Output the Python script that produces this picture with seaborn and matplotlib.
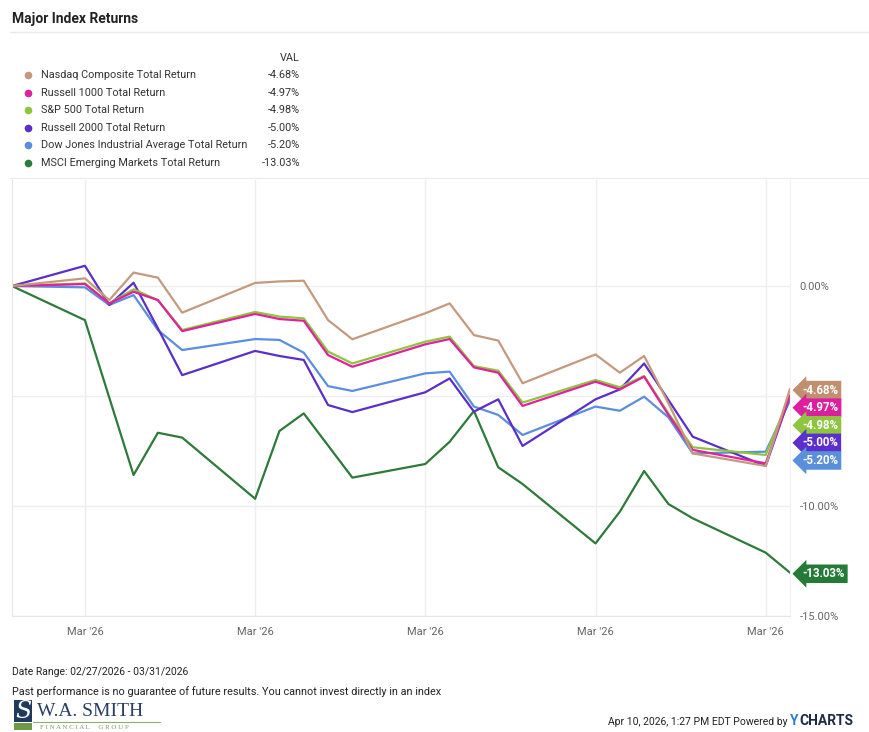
import numpy as np
import pandas as pd
import matplotlib.pyplot as plt
import matplotlib.dates as mdates
from matplotlib.lines import Line2D
from matplotlib.patches import Rectangle
import seaborn as sns

dates = ["2026-02-27", "2026-03-02", "2026-03-03", "2026-03-04", "2026-03-05", "2026-03-06",
         "2026-03-09", "2026-03-10", "2026-03-11", "2026-03-12", "2026-03-13",
         "2026-03-16", "2026-03-17", "2026-03-18", "2026-03-19", "2026-03-20",
         "2026-03-23", "2026-03-24", "2026-03-25", "2026-03-26", "2026-03-27",
         "2026-03-30", "2026-03-31"]

names = ["Nasdaq Composite Total Return", "Russell 1000 Total Return", "S&P 500 Total Return",
         "Russell 2000 Total Return", "Dow Jones Industrial Average Total Return",
         "MSCI Emerging Markets Total Return"]

nasdaq = [0, 0.35, -0.64, 0.61, 0.38, -1.21, 0.14, 0.21, 0.24, -1.55, -2.42, -1.24, -0.79,
          -2.23, -2.48, -4.42, -3.11, -3.94, -3.18, -5.33, -7.61, -8.18, -4.68]
russell1000 = [0, 0.09, -0.79, -0.26, -0.64, -2.05, -1.27, -1.50, -1.58, -3.14, -3.67, -2.65, -2.41,
               -3.70, -3.94, -5.45, -4.35, -4.70, -4.12, -5.86, -7.45, -8.06, -4.97]
sp500 = [0, 0.12, -0.79, -0.15, -0.64, -2.00, -1.18, -1.39, -1.47, -2.98, -3.52, -2.53, -2.30,
         -3.64, -3.85, -5.30, -4.27, -4.60, -4.09, -5.79, -7.33, -7.68, -4.98]
russell2000 = [0, 0.92, -0.86, 0.15, -1.92, -4.05, -2.95, -3.18, -3.36, -5.41, -5.73, -4.83, -4.20,
               -5.71, -5.15, -7.27, -5.15, -4.70, -3.52, -5.18, -6.85, -8.18, -5.00]
dow = [0, -0.06, -0.86, -0.41, -2.00, -2.91, -2.41, -2.45, -3.03, -4.55, -4.77, -3.97, -3.89,
       -5.48, -5.86, -6.77, -5.48, -5.67, -5.03, -5.97, -7.61, -7.53, -5.20]
msci = [0, -1.55, -5.07, -8.59, -6.67, -6.89, -9.67, -6.59, -5.79, -7.25, -8.71, -8.09, -7.08,
        -5.68, -8.24, -9.00, -11.70, -10.26, -8.41, -9.91, -10.56, -12.12, -13.03]

final_vals = [-4.68, -4.97, -4.98, -5.00, -5.20, -13.03]
colors = ["#c49a7e", "#e0219b", "#8cc63e", "#5a2fc8", "#5b8ede", "#2d7a3a"]
tag_colors = ["#c08f70", "#dc1fa0", "#8dc540", "#5b2fcb", "#5a8fdc", "#247a36"]

series = [nasdaq, russell1000, sp500, russell2000, dow, msci]
df = pd.DataFrame({
    "date": np.tile(pd.to_datetime(dates), len(names)),
    "index": np.repeat(names, len(dates)),
    "ret": np.concatenate(series),
})

sns.set_style("white")
plt.rcParams["font.family"] = ["Roboto", "DejaVu Sans"]

W, H = 869, 732
fig = plt.figure(figsize=(W / 100, H / 100), dpi=100)
ax = fig.add_axes([12 / W, 1 - 616 / H, 778 / W, 436 / H])

sns.lineplot(data=df, x="date", y="ret", hue="index", palette=dict(zip(names, colors)),
             hue_order=names[::-1], linewidth=1.6, legend=False, ax=ax)

ax.set_xlim(pd.Timestamp("2026-02-27"), pd.Timestamp("2026-03-31"))
ax.set_ylim(-15, 4.82)
ax.xaxis.set_major_locator(mdates.WeekdayLocator(byweekday=mdates.MO))
ax.xaxis.set_major_formatter(mdates.DateFormatter("%b '%y"))
ax.yaxis.tick_right()
ax.set_yticks([0, -5, -10, -15])
ax.set_yticklabels(["0.00%", "", "-10.00%", "-15.00%"])
ax.tick_params(length=0, labelsize=8, colors="#666666")
ax.tick_params(axis="x", pad=8)
ax.tick_params(axis="y", pad=7)
ax.grid(True, color="#eeeeee", linewidth=1)
ax.set_xlabel("")
ax.set_ylabel("")
for side in ["left", "bottom"]:
    ax.spines[side].set_color("#e6e6e6")
ax.spines["right"].set_color("#f2f2f2")
ax.spines["top"].set_visible(False)

# end-of-line value tags, pushed apart so they don't overlap
order = np.argsort(final_vals)[::-1]
tag_y = {}
prev = None
for i in order:
    y = final_vals[i] - 0.05
    if prev is not None and prev - y < 0.8:
        y = prev - 0.8
    tag_y[i] = y
    prev = y
for i in range(len(names)):
    ax.annotate(f"{final_vals[i]:.2f}%", xy=(1, tag_y[i]), xycoords=("axes fraction", "data"),
                xytext=(9, 0), textcoords="offset points", ha="left", va="center",
                fontsize=8.3, fontweight="bold", color="white", annotation_clip=False,
                bbox=dict(boxstyle="larrow,pad=0.24", fc=tag_colors[i], ec="none"))

# title and header lines
fig.text(12 / W, 1 - 19 / H, "Major Index Returns", fontsize=10, fontweight="bold",
         color="#222222", va="center")
fig.add_artist(Line2D([10 / W, 1], [1 - 32 / H] * 2, color="#e8e8e8", lw=1))
fig.add_artist(Line2D([10 / W, 1], [1 - 178 / H] * 2, color="#ececec", lw=1))

# legend table
fig.text(300 / W, 1 - 58 / H, "VAL", fontsize=7.8, color="#333333", ha="right", va="center")
for k, (name, val, c) in enumerate(zip(names, final_vals, colors)):
    yy = 1 - (75 + k * 17.6) / H
    fig.add_artist(Line2D([28 / W], [yy], marker="o", markersize=4.5, color=c, lw=0))
    fig.text(41 / W, yy, name, fontsize=7.8, color="#333333", va="center")
    fig.text(300 / W, yy, f"{val:.2f}%", fontsize=7.8, color="#333333", ha="right", va="center")

# footer
fig.text(12 / W, 1 - 672 / H, "Date Range: 02/27/2026 - 03/31/2026", fontsize=7.5,
         color="#222222", va="center")
fig.text(12 / W, 1 - 692 / H,
         "Past performance is no guarantee of future results. You cannot invest directly in an index",
         fontsize=7.8, color="#222222", va="center")

fig.add_artist(Rectangle((14 / W, 1 - 722 / H), 18 / W, 22 / H, transform=fig.transFigure,
                         fc="#1e3a5c", ec="none"))
fig.add_artist(Rectangle((14 / W, 1 - 730 / H), 18 / W, 7 / H, transform=fig.transFigure,
                         fc="#6e9a45", ec="none"))
fig.text(23 / W, 1 - 712 / H, "S", fontsize=17, family="DejaVu Serif", style="italic",
         color="white", ha="center", va="center")
fig.text(37 / W, 1 - 712 / H, "W.A. SMITH", fontsize=14, family="Liberation Serif",
         color="#2a3f66", va="center")
fig.add_artist(Line2D([33 / W, 160 / W], [1 - 722 / H] * 2, color="#8fae6a", lw=0.8))
fig.text(40 / W, 1 - 727.5 / H, "F I N A N C I A L     G R O U P", fontsize=5,
         family="Liberation Serif", color="#7f9a6a", va="center")

fig.text(788 / W, 1 - 722 / H, "Apr 10, 2026, 1:27 PM EDT Powered by", fontsize=7.5,
         color="#222222", ha="right", va="center")
ty = fig.text(790 / W, 1 - 721 / H, "Y", fontsize=10, fontweight="bold",
              color="#2f7fd0", ha="left", va="center")
renderer = fig.canvas.get_renderer()
bb = ty.get_window_extent(renderer=renderer)
fig.text((bb.x1 + 1) / W, 1 - 721 / H, "CHARTS", fontsize=10, fontweight="bold",
         color="#1f2a44", ha="left", va="center")

fig.savefig("out.png", dpi=100)
